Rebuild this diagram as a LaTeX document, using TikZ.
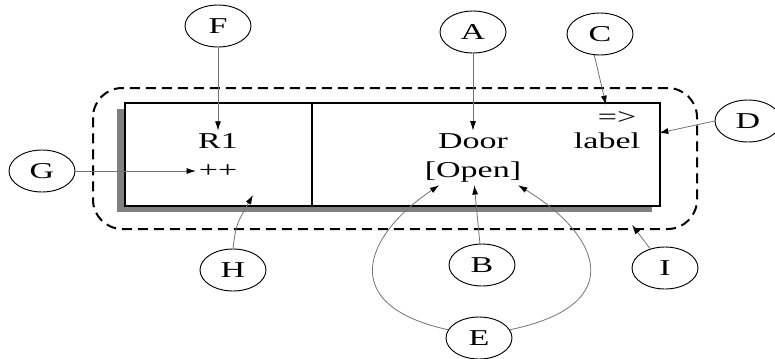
\documentclass[tikz,border=0pt]{standalone}
\usepackage{fontspec}
\setmainfont{Liberation Serif}
\usepackage{graphicx}
\usetikzlibrary{arrows.meta,shapes.geometric}
\newcommand{\widetxt}[1]{\scalebox{1.5}[1]{#1}}
\tikzset{
  tag/.style={draw,ellipse,line width=0.7pt,minimum width=49.5pt,%
    minimum height=31.5pt,inner sep=0pt,font=\fontsize{17}{20}\selectfont},
  word/.style={inner sep=2pt,font=\fontsize{17}{20}\selectfont},
  lead/.style={-{Latex[length=7pt,width=4.5pt,color=black]},draw=black!55,line width=0.6pt},
}

\begin{document}
\begin{tikzpicture}[x=0.75pt,y=-0.75pt]
\useasboundingbox (0,0) rectangle (775,358);
% rule box with its shadow and the dashed frame
\fill[black!50] (117,109) rectangle (652,212);
\draw[line width=2pt,fill=white] (125,103) rectangle (660,206);
\draw[line width=2pt] (312,103) -- (312,206);
\draw[line width=1.5pt,dash pattern=on 7.5pt off 4.5pt,rounded corners=22pt] (93,88) rectangle (697,229);
% texts in the box
\node[word] (r1) at (218,141) {\widetxt{R1}};
\node[word] (pp) at (218,171) {\widetxt{++}};
\node[word] (door) at (473,141) {\widetxt{Door}};
\node[word] (open) at (473,172) {\widetxt{[Open]}};
\node[word] (imp) at (617,118) {\widetxt{=>}};
\node[word] (lbl) at (607,141) {\widetxt{label}};
% callouts
\node[tag] (F) at (218,26) {\widetxt{F}};
\node[tag] (A) at (473,32) {\widetxt{A}};
\node[tag] (C) at (600,34) {\widetxt{C}};
\node[tag] (D) at (748,121) {\widetxt{D}};
\node[tag] (G) at (42,171) {\widetxt{G}};
\node[tag] (H) at (233,270) {\widetxt{H}};
\node[tag] (B) at (482,265) {\widetxt{B}};
\node[tag] (I) at (665,268) {\widetxt{I}};
\node[tag] (E) at (479,338) {\widetxt{E}};
\coordinate (hpt) at (253,195);
\coordinate (ctip) at (606,105);
\coordinate (dtip) at (659,133);
\coordinate (itip) at (632,225);
\draw[lead] (F) -- (r1);
\draw[lead] (G) -- (pp);
\draw[lead] (H.north) .. controls (236,225) .. (hpt);
\draw[lead] (A) -- (door);
\draw[lead] (C.255) -- (ctip);
\draw[lead] (D.west) -- (dtip);
\draw[lead] (B) -- (open);
\draw[lead] (I) -- (itip);
\draw[lead] (E.165) .. controls (335,305) and (365,235) .. ([xshift=13pt]open.south west);
\draw[lead] (E.15) .. controls (630,305) and (600,235) .. ([xshift=-4.5pt]open.south east);
\end{tikzpicture}
\end{document}
